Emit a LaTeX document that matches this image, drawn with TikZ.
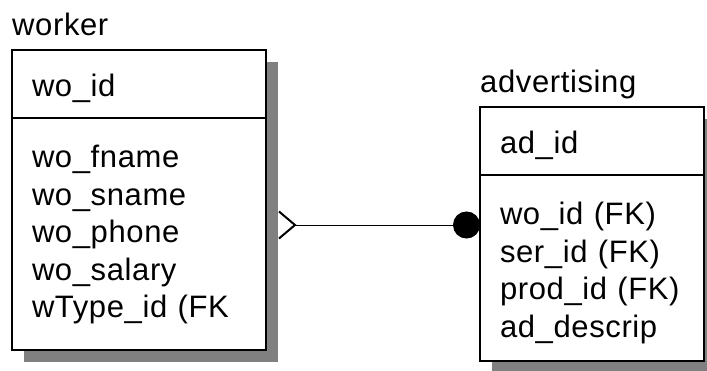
\documentclass[tikz,border=0pt]{standalone}
\usepackage{fontspec}
\setmainfont{Liberation Sans}[LetterSpace=2]
\usetikzlibrary{positioning,shadows,arrows.meta}

\begin{document}
\begin{tikzpicture}
  [x=1pt,y=1pt,
   every node/.style={font=\fontsize{31}{37.5}\selectfont},
   keyN/.style={draw,fill=white,line width=2pt,outer sep=0pt,anchor=north west,
     text width=#1,align=left,inner xsep=20pt,minimum height=68pt,
     text height=28pt,text depth=2pt,
     general shadow={fill=black!50,shadow xshift=12pt,shadow yshift=-12pt}},
   attrN/.style={keyN=#1,anchor=north,inner ysep=0pt,text height=50pt},
   nameN/.style={anchor=base west,inner sep=0pt},
   rel/.style={line width=0.9pt,
     {Straight Barb[reversed,length=16pt,width=27pt,line width=2pt]}-{Circle[length=27pt]}}]

  \useasboundingbox (0,0) rectangle (707,370);

  \node[keyN=214pt] (wkey) at (12,320) {wo\_id};
  \node[attrN=214pt,text depth=182pt,below=0pt of wkey] (wattr)
    {wo\_fname\\wo\_sname\\wo\_phone\\wo\_salary\\wType\_id (FK};
  \node[nameN] (wname) at ([yshift=14pt]wkey.north west) {worker};

  \node[keyN=184pt] (akey) at (480,263.3) {ad\_id};
  \node[attrN=184pt,text depth=136pt,below=0pt of akey] (aattr)
    {wo\_id (FK)\\ser\_id (FK)\\prod\_id (FK)\\ad\_descrip};
  \node[nameN] (aname) at ([yshift=14pt]akey.north west) {advertising};

  \coordinate (wlink) at (278,145);
  \draw[rel] (wlink) -- (aattr.west |- wlink);

\end{tikzpicture}
\end{document}
